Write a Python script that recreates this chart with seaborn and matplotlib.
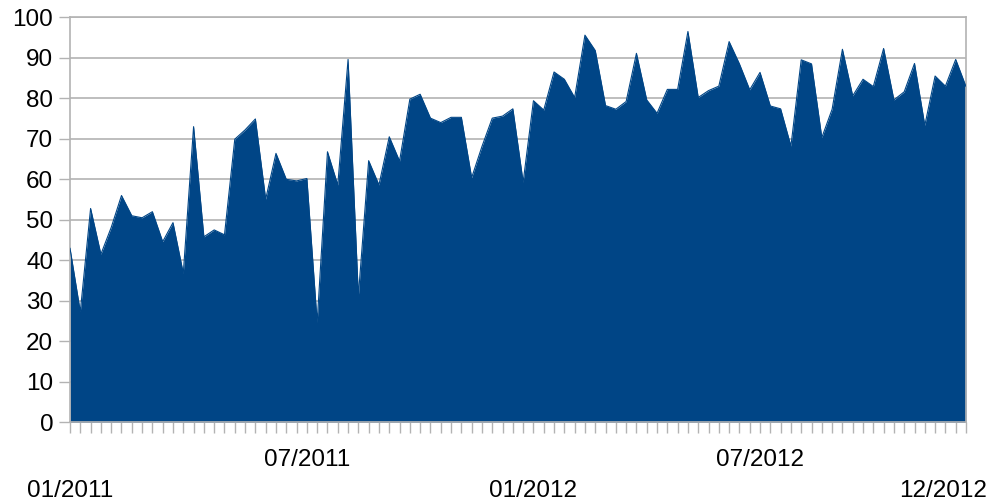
import matplotlib
matplotlib.use("Agg")
import matplotlib.pyplot as plt
import seaborn as sns
import numpy as np
import pandas as pd

values = [43.0, 27.3, 52.8, 41.5, 48.1, 56.0, 51.0, 50.5, 52.0, 44.6,
          49.3, 36.8, 73.0, 45.8, 47.5, 46.3, 69.9, 72.2, 74.9, 55.1,
          66.4, 60.0, 59.6, 60.2, 24.7, 66.8, 58.6, 89.6, 31.2, 64.6,
          58.6, 70.5, 64.5, 79.8, 81.0, 75.1, 74.0, 75.3, 75.3, 60.4,
          68.1, 75.1, 75.6, 77.4, 59.3, 79.4, 77.1, 86.5, 84.7, 80.2,
          95.6, 91.8, 78.2, 77.3, 79.2, 91.1, 79.6, 76.3, 82.2, 82.2,
          96.5, 80.2, 81.9, 83.0, 94.0, 88.5, 82.1, 86.4, 78.1, 77.4,
          68.2, 89.5, 88.5, 70.3, 77.3, 92.1, 80.6, 84.7, 82.9, 92.3,
          79.6, 81.6, 88.6, 73.3, 85.5, 83.0, 89.6, 82.9]
label_index = [0, 23, 45, 67, 87]
label_text = ["01/2011", "07/2011", "01/2012", "07/2012", "12/2012"]
label_row = [1, 0, 1, 0, 1]
y_ticks = list(range(0, 101, 10))

df = pd.DataFrame({"idx": np.arange(len(values)), "value": values})

sns.set_theme(style="white")
plt.rcParams['font.family'] = ['Liberation Sans', 'DejaVu Sans']

fig = plt.figure(figsize=(9.94, 5.01), dpi=100)
ax = fig.add_axes([70/994, 1 - 422.3/501, (966-70)/994, (422.3-17.3)/501])

color = "#004586"
ax.fill_between(df["idx"], 0, df["value"], color=color, linewidth=0, zorder=2)
sns.lineplot(data=df, x="idx", y="value", ax=ax, color=color, linewidth=0.8, zorder=3)

ax.set_xlim(0, len(values) - 1)
ax.set_ylim(0, 100)
ax.set_yticks(y_ticks)
ax.set_yticklabels([str(v) for v in y_ticks], fontsize=17.5, color="#000000")
ax.yaxis.grid(True, color="#b3b3b3", linewidth=1.2, zorder=0)
ax.xaxis.grid(False)
ax.set_axisbelow(True)
ax.set_xticks(np.arange(len(values)))
ax.set_xticklabels([])
ax.tick_params(axis="x", length=8, width=1, color="#b3b3b3", direction="out", bottom=True)
ax.tick_params(axis="y", length=8, width=1, color="#b3b3b3", direction="out", left=True, pad=4)
ax.set_xlabel("")
ax.set_ylabel("")
for s in ax.spines.values():
    s.set_color("#b3b3b3")
    s.set_linewidth(1.2)

for i, t, r in zip(label_index, label_text, label_row):
    dy = -27 if r == 0 else -58
    dx = -23 if i == len(values) - 1 else 0
    ax.annotate(t, xy=(i, 0), xycoords=("data", "axes fraction"),
                xytext=(dx * 0.72, dy * 0.72), textcoords="offset points",
                ha="center", va="top", fontsize=17.5, color="#000000",
                annotation_clip=False)

fig.savefig("out.png", dpi=100)
